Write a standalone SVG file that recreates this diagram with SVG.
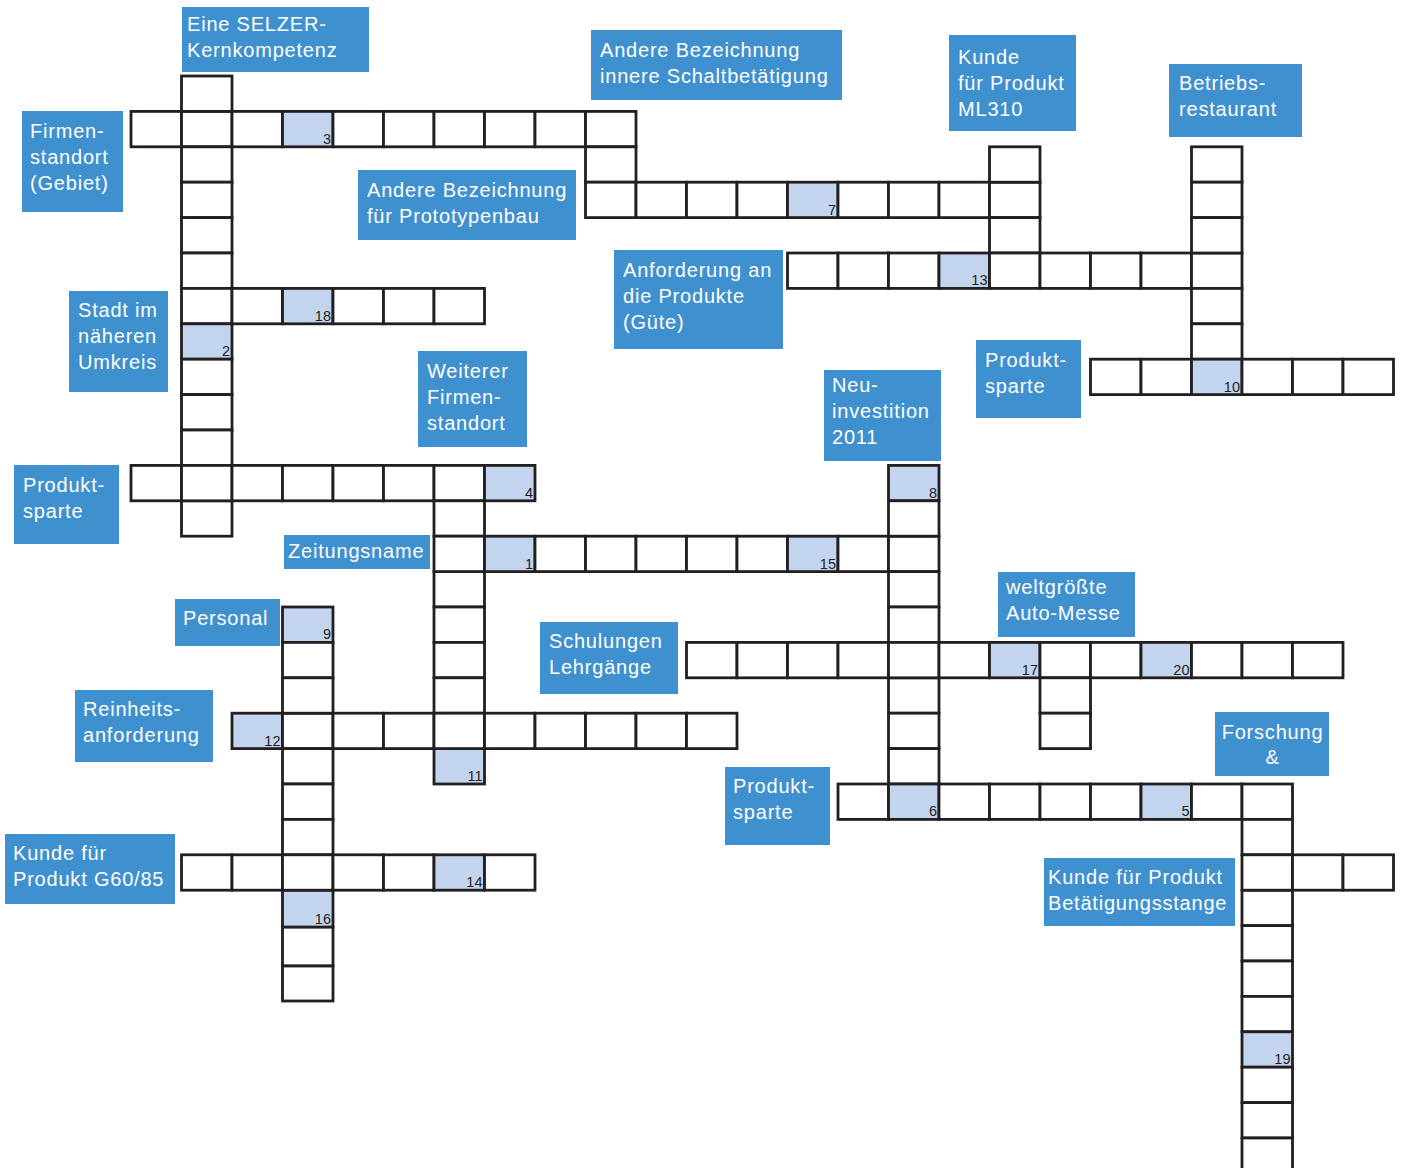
<svg xmlns="http://www.w3.org/2000/svg" width="1402" height="1168" viewBox="0 0 1402 1168">
<style>
.c{fill:#ffffff;stroke:#231f20;stroke-width:2.8}
.s{fill:#c2d4ee;stroke:#231f20;stroke-width:2.8}
.n{font-family:"Liberation Sans",Arial,sans-serif;font-size:14.5px;fill:#231f20;text-anchor:end}
.b{fill:#3f90cf}
.t{font-family:"Liberation Sans",Arial,sans-serif;font-size:20px;letter-spacing:0.8px;fill:#ffffff}
</style>
<rect width="1402" height="1168" fill="#ffffff"/>
<g id="clues">
<g id="clue-kernkompetenz"><rect class="b" x="182" y="7" width="187" height="65"/><text class="t" x="187" y="31">Eine SELZER-</text><text class="t" x="187" y="57">Kernkompetenz</text></g>
<g id="clue-schaltbetaetigung"><rect class="b" x="591" y="30" width="251" height="70"/><text class="t" x="600" y="57">Andere Bezeichnung</text><text class="t" x="600" y="83">innere Schaltbetätigung</text></g>
<g id="clue-ml310"><rect class="b" x="949" y="35" width="127" height="96"/><text class="t" x="958" y="64">Kunde</text><text class="t" x="958" y="90">für Produkt</text><text class="t" x="958" y="116">ML310</text></g>
<g id="clue-betriebsrestaurant"><rect class="b" x="1169" y="64" width="133" height="73"/><text class="t" x="1179" y="90">Betriebs-</text><text class="t" x="1179" y="116">restaurant</text></g>
<g id="clue-firmenstandort"><rect class="b" x="22" y="111" width="101" height="101"/><text class="t" x="30" y="138">Firmen-</text><text class="t" x="30" y="164">standort</text><text class="t" x="30" y="190">(Gebiet)</text></g>
<g id="clue-prototypenbau"><rect class="b" x="358" y="170" width="218" height="70"/><text class="t" x="367" y="197">Andere Bezeichnung</text><text class="t" x="367" y="223">für Prototypenbau</text></g>
<g id="clue-guete"><rect class="b" x="614" y="250" width="169" height="99"/><text class="t" x="623" y="277">Anforderung an</text><text class="t" x="623" y="303">die Produkte</text><text class="t" x="623" y="329">(Güte)</text></g>
<g id="clue-stadt"><rect class="b" x="69" y="291" width="99" height="101"/><text class="t" x="78" y="317">Stadt im</text><text class="t" x="78" y="343">näheren</text><text class="t" x="78" y="369">Umkreis</text></g>
<g id="clue-weiterer"><rect class="b" x="418" y="351" width="109" height="96"/><text class="t" x="427" y="378">Weiterer</text><text class="t" x="427" y="404">Firmen-</text><text class="t" x="427" y="430">standort</text></g>
<g id="clue-produktsparte-1"><rect class="b" x="976" y="340" width="105" height="78"/><text class="t" x="985" y="367">Produkt-</text><text class="t" x="985" y="393">sparte</text></g>
<g id="clue-neuinvestition"><rect class="b" x="824" y="370" width="117" height="91"/><text class="t" x="832" y="392">Neu-</text><text class="t" x="832" y="418">investition</text><text class="t" x="832" y="444">2011</text></g>
<g id="clue-produktsparte-2"><rect class="b" x="14" y="465" width="105" height="79"/><text class="t" x="23" y="492">Produkt-</text><text class="t" x="23" y="518">sparte</text></g>
<g id="clue-zeitungsname"><rect class="b" x="284" y="535" width="146" height="34"/><text class="t" x="288" y="558">Zeitungsname</text></g>
<g id="clue-personal"><rect class="b" x="175" y="599" width="105" height="47"/><text class="t" x="183" y="625">Personal</text></g>
<g id="clue-schulungen"><rect class="b" x="540" y="622" width="138" height="72"/><text class="t" x="549" y="648">Schulungen</text><text class="t" x="549" y="674">Lehrgänge</text></g>
<g id="clue-automesse"><rect class="b" x="998" y="572" width="137" height="65"/><text class="t" x="1006" y="594">weltgrößte</text><text class="t" x="1006" y="620">Auto-Messe</text></g>
<g id="clue-reinheit"><rect class="b" x="75" y="690" width="138" height="72"/><text class="t" x="83" y="716">Reinheits-</text><text class="t" x="83" y="742">anforderung</text></g>
<g id="clue-forschung"><rect class="b" x="1215" y="712" width="114" height="64"/><text class="t" x="1272.5" y="739" text-anchor="middle">Forschung</text><text class="t" x="1272.5" y="764" text-anchor="middle">&amp;</text></g>
<g id="clue-produktsparte-3"><rect class="b" x="725" y="767" width="105" height="78"/><text class="t" x="733" y="793">Produkt-</text><text class="t" x="733" y="819">sparte</text></g>
<g id="clue-g6085"><rect class="b" x="5" y="834" width="170" height="70"/><text class="t" x="13" y="860">Kunde für</text><text class="t" x="13" y="886">Produkt G60/85</text></g>
<g id="clue-betaetigungsstange"><rect class="b" x="1044" y="858" width="191" height="68"/><text class="t" x="1048" y="884">Kunde für Produkt</text><text class="t" x="1048" y="910">Betätigungsstange</text></g>
</g>
<g id="grid">
<g id="word-3">
<rect class="c" x="131" y="111.4" width="50.5" height="35.4"/><rect class="c" x="181.5" y="111.4" width="50.5" height="35.4"/><rect class="c" x="232" y="111.4" width="50.5" height="35.4"/><rect class="s" x="282.5" y="111.4" width="50.5" height="35.4"/><rect class="c" x="333" y="111.4" width="50.5" height="35.4"/><rect class="c" x="383.5" y="111.4" width="50.5" height="35.4"/><rect class="c" x="434" y="111.4" width="50.5" height="35.4"/><rect class="c" x="484.5" y="111.4" width="50.5" height="35.4"/><rect class="c" x="535" y="111.4" width="50.5" height="35.4"/><rect class="c" x="585.5" y="111.4" width="50.5" height="35.4"/>
<text class="n" x="331" y="143.8">3</text>
</g>
<g id="word-2">
<rect class="c" x="181.5" y="76" width="50.5" height="35.4"/><rect class="c" x="181.5" y="146.8" width="50.5" height="35.4"/><rect class="c" x="181.5" y="182.2" width="50.5" height="35.4"/><rect class="c" x="181.5" y="217.6" width="50.5" height="35.4"/><rect class="c" x="181.5" y="253" width="50.5" height="35.4"/><rect class="c" x="181.5" y="288.4" width="50.5" height="35.4"/><rect class="s" x="181.5" y="323.8" width="50.5" height="35.4"/><rect class="c" x="181.5" y="359.2" width="50.5" height="35.4"/><rect class="c" x="181.5" y="394.6" width="50.5" height="35.4"/><rect class="c" x="181.5" y="430" width="50.5" height="35.4"/><rect class="c" x="181.5" y="500.8" width="50.5" height="35.4"/>
<text class="n" x="230" y="356.2">2</text>
</g>
<g id="word-18">
<rect class="c" x="232" y="288.4" width="50.5" height="35.4"/><rect class="s" x="282.5" y="288.4" width="50.5" height="35.4"/><rect class="c" x="333" y="288.4" width="50.5" height="35.4"/><rect class="c" x="383.5" y="288.4" width="50.5" height="35.4"/><rect class="c" x="434" y="288.4" width="50.5" height="35.4"/>
<text class="n" x="331" y="320.8">18</text>
</g>
<g id="word-4">
<rect class="c" x="131" y="465.4" width="50.5" height="35.4"/><rect class="c" x="181.5" y="465.4" width="50.5" height="35.4"/><rect class="c" x="232" y="465.4" width="50.5" height="35.4"/><rect class="c" x="282.5" y="465.4" width="50.5" height="35.4"/><rect class="c" x="333" y="465.4" width="50.5" height="35.4"/><rect class="c" x="383.5" y="465.4" width="50.5" height="35.4"/><rect class="c" x="434" y="465.4" width="50.5" height="35.4"/><rect class="s" x="484.5" y="465.4" width="50.5" height="35.4"/>
<text class="n" x="533" y="497.8">4</text>
</g>
<g id="word-7">
<rect class="c" x="585.5" y="146.8" width="50.5" height="35.4"/>
<rect class="c" x="585.5" y="182.2" width="50.5" height="35.4"/><rect class="c" x="636" y="182.2" width="50.5" height="35.4"/><rect class="c" x="686.5" y="182.2" width="50.5" height="35.4"/><rect class="c" x="737" y="182.2" width="50.5" height="35.4"/><rect class="s" x="787.5" y="182.2" width="50.5" height="35.4"/><rect class="c" x="838" y="182.2" width="50.5" height="35.4"/><rect class="c" x="888.5" y="182.2" width="50.5" height="35.4"/><rect class="c" x="939" y="182.2" width="50.5" height="35.4"/><rect class="c" x="989.5" y="182.2" width="50.5" height="35.4"/>
<text class="n" x="836" y="214.6">7</text>
</g>
<g id="word-13">
<rect class="c" x="989.5" y="146.8" width="50.5" height="35.4"/><rect class="c" x="989.5" y="217.6" width="50.5" height="35.4"/>
<rect class="c" x="787.5" y="253" width="50.5" height="35.4"/><rect class="c" x="838" y="253" width="50.5" height="35.4"/><rect class="c" x="888.5" y="253" width="50.5" height="35.4"/><rect class="s" x="939" y="253" width="50.5" height="35.4"/><rect class="c" x="989.5" y="253" width="50.5" height="35.4"/><rect class="c" x="1040" y="253" width="50.5" height="35.4"/><rect class="c" x="1090.5" y="253" width="50.5" height="35.4"/><rect class="c" x="1141" y="253" width="50.5" height="35.4"/><rect class="c" x="1191.5" y="253" width="50.5" height="35.4"/>
<text class="n" x="987.5" y="285.4">13</text>
</g>
<g id="word-10">
<rect class="c" x="1191.5" y="146.8" width="50.5" height="35.4"/><rect class="c" x="1191.5" y="182.2" width="50.5" height="35.4"/><rect class="c" x="1191.5" y="217.6" width="50.5" height="35.4"/><rect class="c" x="1191.5" y="288.4" width="50.5" height="35.4"/><rect class="c" x="1191.5" y="323.8" width="50.5" height="35.4"/>
<rect class="c" x="1090.5" y="359.2" width="50.5" height="35.4"/><rect class="c" x="1141" y="359.2" width="50.5" height="35.4"/><rect class="s" x="1191.5" y="359.2" width="50.5" height="35.4"/><rect class="c" x="1242" y="359.2" width="50.5" height="35.4"/><rect class="c" x="1292.5" y="359.2" width="50.5" height="35.4"/><rect class="c" x="1343" y="359.2" width="50.5" height="35.4"/>
<text class="n" x="1240" y="391.6">10</text>
</g>
<g id="word-11">
<rect class="c" x="434" y="500.8" width="50.5" height="35.4"/><rect class="c" x="434" y="571.6" width="50.5" height="35.4"/><rect class="c" x="434" y="607" width="50.5" height="35.4"/><rect class="c" x="434" y="642.4" width="50.5" height="35.4"/><rect class="c" x="434" y="677.8" width="50.5" height="35.4"/><rect class="s" x="434" y="748.6" width="50.5" height="35.4"/>
<text class="n" x="482.5" y="781">11</text>
</g>
<g id="word-1">
<rect class="c" x="434" y="536.2" width="50.5" height="35.4"/><rect class="s" x="484.5" y="536.2" width="50.5" height="35.4"/><rect class="c" x="535" y="536.2" width="50.5" height="35.4"/><rect class="c" x="585.5" y="536.2" width="50.5" height="35.4"/><rect class="c" x="636" y="536.2" width="50.5" height="35.4"/><rect class="c" x="686.5" y="536.2" width="50.5" height="35.4"/><rect class="c" x="737" y="536.2" width="50.5" height="35.4"/><rect class="s" x="787.5" y="536.2" width="50.5" height="35.4"/><rect class="c" x="838" y="536.2" width="50.5" height="35.4"/><rect class="c" x="888.5" y="536.2" width="50.5" height="35.4"/>
<text class="n" x="533" y="568.6">1</text><text class="n" x="836" y="568.6">15</text>
</g>
<g id="word-8">
<rect class="s" x="888.5" y="465.4" width="50.5" height="35.4"/><rect class="c" x="888.5" y="500.8" width="50.5" height="35.4"/><rect class="c" x="888.5" y="571.6" width="50.5" height="35.4"/><rect class="c" x="888.5" y="607" width="50.5" height="35.4"/><rect class="c" x="888.5" y="677.8" width="50.5" height="35.4"/><rect class="c" x="888.5" y="713.2" width="50.5" height="35.4"/><rect class="c" x="888.5" y="748.6" width="50.5" height="35.4"/>
<text class="n" x="937" y="497.8">8</text>
</g>
<g id="word-17">
<rect class="c" x="686.5" y="642.4" width="50.5" height="35.4"/><rect class="c" x="737" y="642.4" width="50.5" height="35.4"/><rect class="c" x="787.5" y="642.4" width="50.5" height="35.4"/><rect class="c" x="838" y="642.4" width="50.5" height="35.4"/><rect class="c" x="888.5" y="642.4" width="50.5" height="35.4"/><rect class="c" x="939" y="642.4" width="50.5" height="35.4"/><rect class="s" x="989.5" y="642.4" width="50.5" height="35.4"/><rect class="c" x="1040" y="642.4" width="50.5" height="35.4"/><rect class="c" x="1090.5" y="642.4" width="50.5" height="35.4"/><rect class="s" x="1141" y="642.4" width="50.5" height="35.4"/><rect class="c" x="1191.5" y="642.4" width="50.5" height="35.4"/><rect class="c" x="1242" y="642.4" width="50.5" height="35.4"/><rect class="c" x="1292.5" y="642.4" width="50.5" height="35.4"/>
<rect class="c" x="1040" y="677.8" width="50.5" height="35.4"/><rect class="c" x="1040" y="713.2" width="50.5" height="35.4"/>
<text class="n" x="1038" y="674.8">17</text><text class="n" x="1189.5" y="674.8">20</text>
</g>
<g id="word-5">
<rect class="c" x="838" y="784" width="50.5" height="35.4"/><rect class="s" x="888.5" y="784" width="50.5" height="35.4"/><rect class="c" x="939" y="784" width="50.5" height="35.4"/><rect class="c" x="989.5" y="784" width="50.5" height="35.4"/><rect class="c" x="1040" y="784" width="50.5" height="35.4"/><rect class="c" x="1090.5" y="784" width="50.5" height="35.4"/><rect class="s" x="1141" y="784" width="50.5" height="35.4"/><rect class="c" x="1191.5" y="784" width="50.5" height="35.4"/><rect class="c" x="1242" y="784" width="50.5" height="35.4"/>
<text class="n" x="937" y="816.4">6</text><text class="n" x="1189.5" y="816.4">5</text>
</g>
<g id="word-19">
<rect class="c" x="1242" y="819.4" width="50.5" height="35.4"/><rect class="c" x="1242" y="890.2" width="50.5" height="35.4"/><rect class="c" x="1242" y="925.6" width="50.5" height="35.4"/><rect class="c" x="1242" y="961" width="50.5" height="35.4"/><rect class="c" x="1242" y="996.4" width="50.5" height="35.4"/><rect class="s" x="1242" y="1031.8" width="50.5" height="35.4"/><rect class="c" x="1242" y="1067.2" width="50.5" height="35.4"/><rect class="c" x="1242" y="1102.6" width="50.5" height="35.4"/><rect class="c" x="1242" y="1138" width="50.5" height="35.4"/>
<rect class="c" x="1242" y="854.8" width="50.5" height="35.4"/><rect class="c" x="1292.5" y="854.8" width="50.5" height="35.4"/><rect class="c" x="1343" y="854.8" width="50.5" height="35.4"/>
<text class="n" x="1290.5" y="1064.2">19</text>
</g>
<g id="word-12">
<rect class="s" x="232" y="713.2" width="50.5" height="35.4"/><rect class="c" x="282.5" y="713.2" width="50.5" height="35.4"/><rect class="c" x="333" y="713.2" width="50.5" height="35.4"/><rect class="c" x="383.5" y="713.2" width="50.5" height="35.4"/><rect class="c" x="434" y="713.2" width="50.5" height="35.4"/><rect class="c" x="484.5" y="713.2" width="50.5" height="35.4"/><rect class="c" x="535" y="713.2" width="50.5" height="35.4"/><rect class="c" x="585.5" y="713.2" width="50.5" height="35.4"/><rect class="c" x="636" y="713.2" width="50.5" height="35.4"/><rect class="c" x="686.5" y="713.2" width="50.5" height="35.4"/>
<text class="n" x="280.5" y="745.6">12</text>
</g>
<g id="word-9">
<rect class="s" x="282.5" y="607" width="50.5" height="35.4"/><rect class="c" x="282.5" y="642.4" width="50.5" height="35.4"/><rect class="c" x="282.5" y="677.8" width="50.5" height="35.4"/><rect class="c" x="282.5" y="748.6" width="50.5" height="35.4"/><rect class="c" x="282.5" y="784" width="50.5" height="35.4"/><rect class="c" x="282.5" y="819.4" width="50.5" height="35.4"/><rect class="s" x="282.5" y="890.2" width="50.5" height="37"/><rect class="c" x="282.5" y="927.2" width="50.5" height="38.8"/><rect class="c" x="282.5" y="966" width="50.5" height="35"/>
<text class="n" x="331" y="639.4">9</text><text class="n" x="331" y="923.5">16</text>
</g>
<g id="word-14">
<rect class="c" x="181.5" y="854.8" width="50.5" height="35.4"/><rect class="c" x="232" y="854.8" width="50.5" height="35.4"/><rect class="c" x="282.5" y="854.8" width="50.5" height="35.4"/><rect class="c" x="333" y="854.8" width="50.5" height="35.4"/><rect class="c" x="383.5" y="854.8" width="50.5" height="35.4"/><rect class="s" x="434" y="854.8" width="50.5" height="35.4"/><rect class="c" x="484.5" y="854.8" width="50.5" height="35.4"/>
<text class="n" x="482.5" y="887.2">14</text>
</g>
</g>
<g id="connectors"/>
</svg>
